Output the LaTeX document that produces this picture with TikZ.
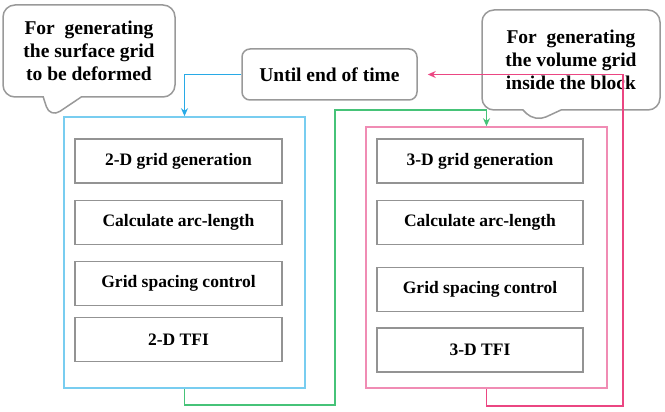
\documentclass[tikz,border=0pt]{standalone}
\usepackage{fontspec}
\setmainfont{Liberation Serif}
\usetikzlibrary{arrows.meta,positioning,shapes.callouts}

\definecolor{frameblue}{RGB}{120,205,240}
\definecolor{arrowblue}{RGB}{40,170,230}
\definecolor{linegreen}{RGB}{70,195,120}
\definecolor{framepink}{RGB}{240,140,180}
\definecolor{linepink}{RGB}{235,70,130}

\tikzset{
  stepbox/.style={draw=gray!85,line width=1.8pt,minimum width=207pt,minimum height=44pt,
    font=\fontsize{17.5}{21}\selectfont\bfseries},
  note/.style={rectangle callout,draw=gray!80,line width=1.5pt,rounded corners=12pt,
    align=center,font=\fontsize{19.5}{23}\selectfont\bfseries,callout pointer width=38pt},
  flow/.style={line width=1.8pt,-{Stealth[length=8pt,width=7pt]}}
}

\begin{document}
\begin{tikzpicture}[x=1pt,y=-1pt]
        \useasboundingbox (0,0) rectangle (665,412);
        % callouts
        \node[note,minimum width=172pt,minimum height=92pt,callout absolute pointer={(50,118)}] (lnote) at (89,51)
          {For\ \ generating\\the surface grid\\to be deformed};
        \node[note,minimum width=178pt,minimum height=100pt,callout absolute pointer={(535,122)}] (rnote) at (571,60)
          {For\ \ generating\\the volume grid\\inside the block};
        \node[draw=gray!80,line width=1.5pt,rounded corners=8pt,minimum width=175pt,minimum height=51pt,
          font=\fontsize{19.5}{23}\selectfont\bfseries] (until) at (329.5,74.5) {Until end of time};
        % frames
        \node[draw=frameblue,line width=1.6pt,minimum width=241pt,minimum height=271pt] (lframe) at (184.5,252.5) {};
        \node[draw=framepink,line width=1.6pt,minimum width=241pt,minimum height=261pt] (rframe) at (486.5,257.5) {};
        % 2-D steps
        \node[stepbox] (l1) at (178.5,161) {2-D grid generation};
        \node[stepbox] (l2) at (178.5,222.5) {Calculate arc-length};
        \node[stepbox] (l3) at (178.5,283.5) {Grid spacing control};
        \node[stepbox] (l4) at (178.5,339.5) {2-D TFI};
        % 3-D steps
        \node[stepbox,minimum width=206pt] (r1) at (480,161) {3-D grid generation};
        \node[stepbox,minimum width=206pt] (r2) at (480,222.5) {Calculate arc-length};
        \node[stepbox,minimum width=206pt] (r3) at (480,289.5) {Grid spacing control};
        \node[stepbox,minimum width=206pt] (r4) at (480,350) {3-D TFI};
        % loop lines
        \coordinate (g1) at (335,405);
        \coordinate (g2) at (335,110);
        \coordinate (p1) at (623,406);
        \draw[flow,arrowblue] (until.west) -| (lframe.north);
        \draw[flow,linegreen] (lframe.south) |- (g1) -- (g2) -| (rframe.north);
        \draw[flow,linepink,shorten >=10pt] (rframe.south) |- (p1) |- (until.east);
\end{tikzpicture}
\end{document}
